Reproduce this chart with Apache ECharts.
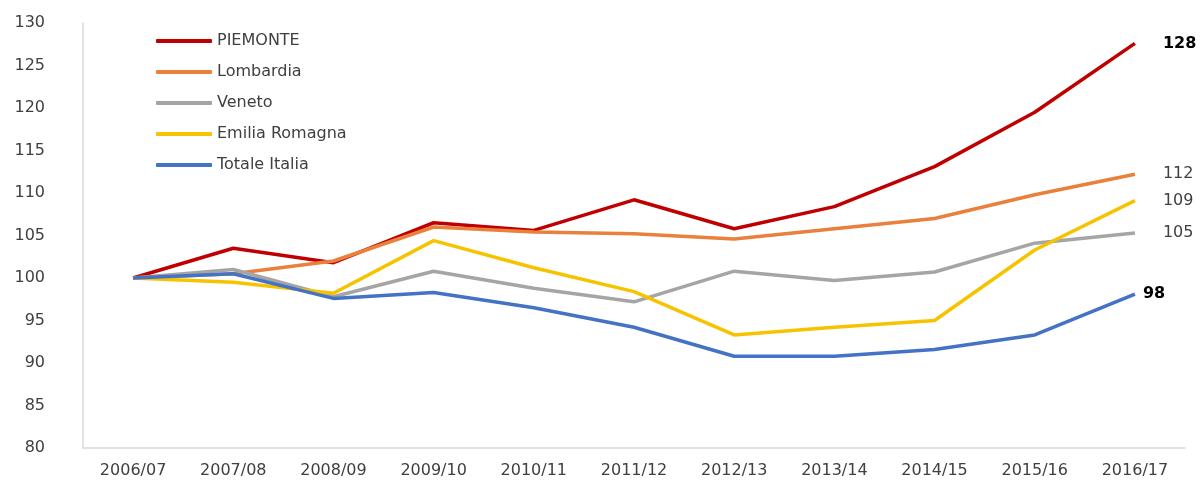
<!DOCTYPE html>
<html>
<head>
<meta charset="utf-8">
<script src="https://cdn.jsdelivr.net/npm/echarts@6/dist/echarts.min.js"></script>
<style>
html,body{margin:0;padding:0;background:#fff;}
#main{width:1200px;height:483px;}
</style>
</head>
<body>
<div id="main"></div>
<script>
const categories = ['2006/07','2007/08','2008/09','2009/10','2010/11','2011/12','2012/13','2013/14','2014/15','2015/16','2016/17'];
const piemonte = [100, 103.5, 101.8, 106.5, 105.6, 109.2, 105.8, 108.4, 113.1, 119.5, 127.6];
const lombardia = [100, 100.5, 102.0, 106.0, 105.4, 105.2, 104.6, 105.8, 107.0, 109.8, 112.2];
const veneto = [100, 101.0, 97.8, 100.8, 98.8, 97.2, 100.8, 99.7, 100.7, 104.1, 105.3];
const emilia = [100, 99.5, 98.2, 104.4, 101.2, 98.4, 93.3, 94.2, 95.0, 103.3, 109.1];
const italia = [100, 100.5, 97.6, 98.3, 96.5, 94.2, 90.8, 90.8, 91.6, 93.3, 98.1];
const seriesNames = ['PIEMONTE','Lombardia','Veneto','Emilia Romagna','Totale Italia'];
const yTicks = {min: 80, max: 130, interval: 5};

const font = '"DejaVu Sans", sans-serif';
const colors = ['#C00000','#E9803C','#A5A5A5','#F7C300','#4472C4'];
const datasets = [piemonte, lombardia, veneto, emilia, italia];
const boldEnd = [true,false,false,false,true];
const endDist = [28,28,28,28,8];

const chart = echarts.init(document.getElementById('main'));
chart.setOption({
  animation: false,
  backgroundColor: '#fff',
  grid: {left: 83, right: 15, top: 23, bottom: 35},
  legend: {
    orient: 'vertical', left: 151, top: 27,
    icon: 'roundRect',
    itemWidth: 56, itemHeight: 4, itemGap: 13,
    textStyle: {fontFamily: font, fontSize: 16, color: '#404040', lineHeight: 18},
    data: seriesNames
  },
  xAxis: {
    type: 'category', data: categories, boundaryGap: true,
    axisLine: {lineStyle: {color: '#D9D9D9', width: 1.5}},
    axisTick: {show: false},
    axisLabel: {fontFamily: font, fontSize: 16, color: '#404040', margin: 15}
  },
  yAxis: {
    type: 'value', min: yTicks.min, max: yTicks.max, interval: yTicks.interval,
    axisLine: {show: true, lineStyle: {color: '#D9D9D9', width: 1.5}},
    axisTick: {show: false},
    splitLine: {show: false},
    axisLabel: {fontFamily: font, fontSize: 16, color: '#404040', margin: 38}
  },
  series: seriesNames.map((n, i) => ({
    name: n, type: 'line', data: datasets[i],
    symbol: 'none',
    lineStyle: {color: colors[i], width: 3.5},
    itemStyle: {color: colors[i]},
    endLabel: {
      show: true,
      distance: endDist[i],
      formatter: p => String(Math.round(p.value)),
      fontFamily: font, fontSize: 16,
      fontWeight: boldEnd[i] ? 'bold' : 'normal',
      color: boldEnd[i] ? '#000' : '#404040'
    }
  }))
});
</script>
</body>
</html>
